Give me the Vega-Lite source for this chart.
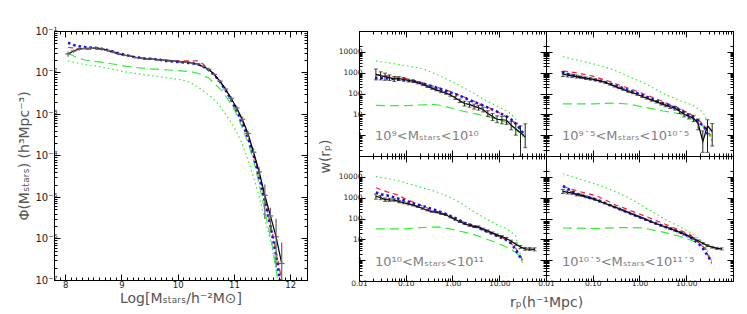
{
"$schema": "https://vega.github.io/schema/vega-lite/v6.json",
"padding": {"left": 17, "top": 25, "right": 0, "bottom": 0},
"spacing": 9,
"config": {
  "font": "DejaVu Sans",
  "view": {"stroke": "#000", "strokeWidth": 1},
  "axis": {"domainColor": "#000", "tickColor": "#000", "labelColor": "#222", "labelFontSize": 7.5, "titleFontSize": 14, "titleFontWeight": "normal", "titleColor": "#555", "grid": false, "labelFlush": false, "labelOverlap": false, "labelPadding": 3, "titlePadding": 3},
  "concat": {"spacing": 0}
},
"datasets": {
"smf": [
{"s":"o","x":8.05,"y":0.028,"lo":0.024,"hi":0.032,"xl":8.0,"xh":8.1},
{"s":"o","x":8.15,"y":0.033,"lo":0.030,"hi":0.036,"xl":8.1,"xh":8.2},
{"s":"o","x":8.25,"y":0.037,"lo":0.034,"hi":0.040,"xl":8.2,"xh":8.3},
{"s":"o","x":8.35,"y":0.038,"lo":0.035,"hi":0.041,"xl":8.3,"xh":8.4},
{"s":"o","x":8.45,"y":0.038,"lo":0.035,"hi":0.041,"xl":8.4,"xh":8.5},
{"s":"o","x":8.55,"y":0.039,"lo":0.036,"hi":0.042,"xl":8.5,"xh":8.6},
{"s":"o","x":8.65,"y":0.037,"lo":0.034,"hi":0.040,"xl":8.6,"xh":8.7},
{"s":"o","x":8.75,"y":0.034,"lo":0.032,"hi":0.036,"xl":8.7,"xh":8.8},
{"s":"o","x":8.85,"y":0.031,"lo":0.029,"hi":0.033,"xl":8.8,"xh":8.9},
{"s":"o","x":8.95,"y":0.028,"lo":0.026,"hi":0.030,"xl":8.9,"xh":9.0},
{"s":"o","x":9.05,"y":0.026,"lo":0.0245,"hi":0.0275,"xl":9.0,"xh":9.1},
{"s":"o","x":9.15,"y":0.025,"lo":0.0235,"hi":0.0265,"xl":9.1,"xh":9.2},
{"s":"o","x":9.25,"y":0.023,"lo":0.0217,"hi":0.0243,"xl":9.2,"xh":9.3},
{"s":"o","x":9.35,"y":0.022,"lo":0.0208,"hi":0.0232,"xl":9.3,"xh":9.4},
{"s":"o","x":9.45,"y":0.021,"lo":0.0199,"hi":0.0221,"xl":9.4,"xh":9.5},
{"s":"o","x":9.55,"y":0.021,"lo":0.0199,"hi":0.0221,"xl":9.5,"xh":9.6},
{"s":"o","x":9.65,"y":0.020,"lo":0.019,"hi":0.021,"xl":9.6,"xh":9.7},
{"s":"o","x":9.75,"y":0.020,"lo":0.019,"hi":0.021,"xl":9.7,"xh":9.8},
{"s":"o","x":9.85,"y":0.019,"lo":0.018,"hi":0.020,"xl":9.8,"xh":9.9},
{"s":"o","x":9.95,"y":0.019,"lo":0.018,"hi":0.020,"xl":9.9,"xh":10.0},
{"s":"o","x":10.05,"y":0.018,"lo":0.017,"hi":0.019,"xl":10.0,"xh":10.1},
{"s":"o","x":10.15,"y":0.018,"lo":0.017,"hi":0.019,"xl":10.1,"xh":10.2},
{"s":"o","x":10.25,"y":0.017,"lo":0.016,"hi":0.018,"xl":10.2,"xh":10.3},
{"s":"o","x":10.35,"y":0.016,"lo":0.015,"hi":0.017,"xl":10.3,"xh":10.4},
{"s":"o","x":10.45,"y":0.014,"lo":0.013,"hi":0.015,"xl":10.4,"xh":10.5},
{"s":"o","x":10.55,"y":0.012,"lo":0.011,"hi":0.013,"xl":10.5,"xh":10.6},
{"s":"o","x":10.65,"y":0.0090,"lo":0.0083,"hi":0.0097,"xl":10.6,"xh":10.7},
{"s":"o","x":10.75,"y":0.0062,"lo":0.0057,"hi":0.0067,"xl":10.7,"xh":10.8},
{"s":"o","x":10.85,"y":0.0040,"lo":0.0036,"hi":0.0044,"xl":10.8,"xh":10.9},
{"s":"o","x":10.95,"y":0.0024,"lo":0.0021,"hi":0.0027,"xl":10.9,"xh":11.0},
{"s":"o","x":11.05,"y":0.0014,"lo":0.0012,"hi":0.0016,"xl":11.0,"xh":11.1},
{"s":"o","x":11.15,"y":0.00075,"lo":0.00064,"hi":0.00086,"xl":11.1,"xh":11.2},
{"s":"o","x":11.25,"y":0.00034,"lo":0.00028,"hi":0.0004,"xl":11.2,"xh":11.3},
{"s":"o","x":11.35,"y":0.00012,"lo":0.0001,"hi":0.00015,"xl":11.3,"xh":11.4},
{"s":"o","x":11.45,"y":0.00004,"lo":0.00003,"hi":0.000052,"xl":11.4,"xh":11.5},
{"s":"o","x":11.55,"y":0.000011,"lo":0.000003,"hi":0.00002,"xl":11.5,"xh":11.6},
{"s":"o","x":11.65,"y":0.0000035,"lo":0.0000015,"hi":0.0000055,"xl":11.6,"xh":11.7},
{"s":"o","x":11.75,"y":0.0000011,"lo":0.0000002,"hi":0.000003,"xl":11.7,"xh":11.8},
{"s":"o","x":11.85,"y":0.00000025,"lo":0.0000001,"hi":0.0000008,"xl":11.8,"xh":11.9},
{"s":"r","x":8.05,"y":0.040},{"s":"r","x":8.15,"y":0.039},{"s":"r","x":8.25,"y":0.037},{"s":"r","x":8.35,"y":0.036},{"s":"r","x":8.5,"y":0.037},{"s":"r","x":8.65,"y":0.036},{"s":"r","x":8.8,"y":0.032},{"s":"r","x":9.0,"y":0.027},{"s":"r","x":9.2,"y":0.024},{"s":"r","x":9.4,"y":0.022},{"s":"r","x":9.6,"y":0.021},{"s":"r","x":9.8,"y":0.020},{"s":"r","x":10.0,"y":0.019},{"s":"r","x":10.2,"y":0.019},{"s":"r","x":10.35,"y":0.019},{"s":"r","x":10.45,"y":0.016},{"s":"r","x":10.55,"y":0.012},{"s":"r","x":10.65,"y":0.0088},{"s":"r","x":10.75,"y":0.006},{"s":"r","x":10.85,"y":0.0039},{"s":"r","x":10.95,"y":0.0023},{"s":"r","x":11.05,"y":0.0013},{"s":"r","x":11.15,"y":0.00068},{"s":"r","x":11.25,"y":0.0003},{"s":"r","x":11.35,"y":0.00011},{"s":"r","x":11.45,"y":0.000035},{"s":"r","x":11.55,"y":0.000009},{"s":"r","x":11.65,"y":0.0000022},{"s":"r","x":11.75,"y":0.0000005},{"s":"r","x":11.85,"y":0.0000001},
{"s":"b","x":8.05,"y":0.052},{"s":"b","x":8.15,"y":0.046},{"s":"b","x":8.25,"y":0.043},{"s":"b","x":8.35,"y":0.041},{"s":"b","x":8.45,"y":0.040},{"s":"b","x":8.55,"y":0.039},{"s":"b","x":8.65,"y":0.037},{"s":"b","x":8.75,"y":0.035},{"s":"b","x":8.85,"y":0.032},{"s":"b","x":8.95,"y":0.029},{"s":"b","x":9.05,"y":0.027},{"s":"b","x":9.2,"y":0.024},{"s":"b","x":9.4,"y":0.022},{"s":"b","x":9.6,"y":0.021},{"s":"b","x":9.8,"y":0.019},{"s":"b","x":10.0,"y":0.018},{"s":"b","x":10.2,"y":0.017},{"s":"b","x":10.35,"y":0.016},{"s":"b","x":10.45,"y":0.014},{"s":"b","x":10.55,"y":0.0115},{"s":"b","x":10.65,"y":0.0088},{"s":"b","x":10.75,"y":0.006},{"s":"b","x":10.85,"y":0.0038},{"s":"b","x":10.95,"y":0.0022},{"s":"b","x":11.05,"y":0.0012},{"s":"b","x":11.15,"y":0.0006},{"s":"b","x":11.25,"y":0.00027},{"s":"b","x":11.35,"y":0.0001},{"s":"b","x":11.45,"y":0.00003},{"s":"b","x":11.55,"y":0.000008},{"s":"b","x":11.65,"y":0.000002},{"s":"b","x":11.75,"y":0.0000004},{"s":"b","x":11.82,"y":0.0000001},
{"s":"gd","x":8.05,"y":0.029},{"s":"gd","x":8.2,"y":0.023},{"s":"gd","x":8.35,"y":0.020},{"s":"gd","x":8.6,"y":0.018},{"s":"gd","x":8.85,"y":0.016},{"s":"gd","x":9.1,"y":0.014},{"s":"gd","x":9.37,"y":0.0127},{"s":"gd","x":9.6,"y":0.012},{"s":"gd","x":9.84,"y":0.0115},{"s":"gd","x":10.05,"y":0.011},{"s":"gd","x":10.25,"y":0.0104},{"s":"gd","x":10.4,"y":0.0092},{"s":"gd","x":10.55,"y":0.0074},{"s":"gd","x":10.65,"y":0.0055},{"s":"gd","x":10.78,"y":0.0037},{"s":"gd","x":10.9,"y":0.0022},{"s":"gd","x":11.02,"y":0.0012},{"s":"gd","x":11.14,"y":0.0005},{"s":"gd","x":11.26,"y":0.00019},{"s":"gd","x":11.37,"y":0.00006},{"s":"gd","x":11.48,"y":0.000013},{"s":"gd","x":11.58,"y":0.000003},{"s":"gd","x":11.68,"y":0.0000007},{"s":"gd","x":11.78,"y":0.0000001},
{"s":"gt","x":8.05,"y":0.019},{"s":"gt","x":8.3,"y":0.016},{"s":"gt","x":8.65,"y":0.0135},{"s":"gt","x":8.95,"y":0.011},{"s":"gt","x":9.24,"y":0.0095},{"s":"gt","x":9.55,"y":0.0083},{"s":"gt","x":9.84,"y":0.0074},{"s":"gt","x":10.05,"y":0.0067},{"s":"gt","x":10.2,"y":0.0059},{"s":"gt","x":10.32,"y":0.0048},{"s":"gt","x":10.43,"y":0.0038},{"s":"gt","x":10.58,"y":0.0027},{"s":"gt","x":10.73,"y":0.0017},{"s":"gt","x":10.85,"y":0.001},{"s":"gt","x":10.96,"y":0.0006},{"s":"gt","x":11.06,"y":0.00035},{"s":"gt","x":11.14,"y":0.0002},{"s":"gt","x":11.25,"y":0.00008},{"s":"gt","x":11.35,"y":0.00003},{"s":"gt","x":11.45,"y":0.00001},{"s":"gt","x":11.55,"y":0.000003},{"s":"gt","x":11.65,"y":0.0000009},{"s":"gt","x":11.75,"y":0.00000022},{"s":"gt","x":11.8,"y":0.0000001}
],
"wp": [
{"p":1,"s":"o","r":0.023,"w":830,"lo":450,"hi":1500},{"p":1,"s":"o","r":0.029,"w":720,"lo":450,"hi":1100},{"p":1,"s":"o","r":0.036,"w":650,"lo":430,"hi":950},{"p":1,"s":"o","r":0.045,"w":580,"lo":420,"hi":780},{"p":1,"s":"o","r":0.057,"w":500,"lo":380,"hi":650},{"p":1,"s":"o","r":0.072,"w":520,"lo":420,"hi":640},{"p":1,"s":"o","r":0.09,"w":480,"lo":400,"hi":580},{"p":1,"s":"o","r":0.114,"w":420,"lo":360,"hi":490},{"p":1,"s":"o","r":0.143,"w":390,"lo":340,"hi":450},{"p":1,"s":"o","r":0.18,"w":330,"lo":290,"hi":375},{"p":1,"s":"o","r":0.23,"w":270,"lo":240,"hi":305},{"p":1,"s":"o","r":0.29,"w":220,"lo":195,"hi":248},{"p":1,"s":"o","r":0.36,"w":180,"lo":160,"hi":202},{"p":1,"s":"o","r":0.45,"w":150,"lo":133,"hi":168},{"p":1,"s":"o","r":0.57,"w":125,"lo":110,"hi":140},{"p":1,"s":"o","r":0.72,"w":105,"lo":92,"hi":119},{"p":1,"s":"o","r":0.9,"w":85,"lo":74,"hi":97},{"p":1,"s":"o","r":1.14,"w":62,"lo":52,"hi":73},{"p":1,"s":"o","r":1.43,"w":45,"lo":37,"hi":54},{"p":1,"s":"o","r":1.8,"w":33,"lo":25,"hi":43},{"p":1,"s":"o","r":2.3,"w":30,"lo":22,"hi":40},{"p":1,"s":"o","r":2.9,"w":24,"lo":18,"hi":31},{"p":1,"s":"o","r":3.6,"w":21,"lo":16,"hi":27},{"p":1,"s":"o","r":4.5,"w":17,"lo":13,"hi":22},{"p":1,"s":"o","r":5.7,"w":11,"lo":8,"hi":15},{"p":1,"s":"o","r":7.2,"w":7.8,"lo":5,"hi":11},{"p":1,"s":"o","r":9,"w":5.8,"lo":4,"hi":8.5},{"p":1,"s":"o","r":11.4,"w":5.5,"lo":3.5,"hi":8},{"p":1,"s":"o","r":14.3,"w":5.2,"lo":3.3,"hi":7.8},{"p":1,"s":"o","r":18,"w":3.0,"lo":1.8,"hi":4.6},{"p":1,"s":"o","r":22.6,"w":2.0,"lo":1.0,"hi":3.5},{"p":1,"s":"o","r":28.5,"w":1.3,"lo":0.1,"hi":2.8},{"p":1,"s":"o","r":35.9,"w":0.8,"lo":0.25,"hi":3.5},
{"p":1,"s":"r","r":0.023,"w":800},{"p":1,"s":"r","r":0.04,"w":700},{"p":1,"s":"r","r":0.07,"w":600},{"p":1,"s":"r","r":0.1,"w":520},{"p":1,"s":"r","r":0.2,"w":360},{"p":1,"s":"r","r":0.4,"w":220},{"p":1,"s":"r","r":0.7,"w":150},{"p":1,"s":"r","r":1,"w":115},{"p":1,"s":"r","r":2,"w":60},{"p":1,"s":"r","r":4,"w":30},{"p":1,"s":"r","r":7,"w":18},{"p":1,"s":"r","r":10,"w":12},{"p":1,"s":"r","r":15,"w":7},{"p":1,"s":"r","r":20,"w":4.5},{"p":1,"s":"r","r":25,"w":2.6},{"p":1,"s":"r","r":30,"w":1.5},{"p":1,"s":"r","r":33,"w":1.0},
{"p":1,"s":"b","r":0.022,"w":560},{"p":1,"s":"b","r":0.03,"w":560},{"p":1,"s":"b","r":0.04,"w":530},{"p":1,"s":"b","r":0.06,"w":480},{"p":1,"s":"b","r":0.1,"w":420},{"p":1,"s":"b","r":0.15,"w":380},{"p":1,"s":"b","r":0.25,"w":290},{"p":1,"s":"b","r":0.4,"w":210},{"p":1,"s":"b","r":0.7,"w":140},{"p":1,"s":"b","r":1,"w":105},{"p":1,"s":"b","r":1.5,"w":75},{"p":1,"s":"b","r":2.5,"w":45},{"p":1,"s":"b","r":4,"w":30},{"p":1,"s":"b","r":6,"w":20},{"p":1,"s":"b","r":10,"w":12},{"p":1,"s":"b","r":15,"w":7.5},{"p":1,"s":"b","r":20,"w":4.8},{"p":1,"s":"b","r":25,"w":2.8},{"p":1,"s":"b","r":30,"w":1.6},{"p":1,"s":"b","r":35,"w":1.0},
{"p":1,"s":"gt","r":0.023,"w":3700},{"p":1,"s":"gt","r":0.05,"w":2800},{"p":1,"s":"gt","r":0.1,"w":2200},{"p":1,"s":"gt","r":0.23,"w":1550},{"p":1,"s":"gt","r":0.5,"w":750},{"p":1,"s":"gt","r":1.25,"w":280},{"p":1,"s":"gt","r":2.5,"w":120},{"p":1,"s":"gt","r":5.4,"w":43},{"p":1,"s":"gt","r":10,"w":22},{"p":1,"s":"gt","r":16,"w":12.6},{"p":1,"s":"gt","r":22,"w":6.5},{"p":1,"s":"gt","r":27,"w":2.6},{"p":1,"s":"gt","r":32,"w":1.2},
{"p":1,"s":"gd","r":0.023,"w":27},{"p":1,"s":"gd","r":0.05,"w":26},{"p":1,"s":"gd","r":0.1,"w":26},{"p":1,"s":"gd","r":0.2,"w":28},{"p":1,"s":"gd","r":0.35,"w":30},{"p":1,"s":"gd","r":0.5,"w":28},{"p":1,"s":"gd","r":0.8,"w":22},{"p":1,"s":"gd","r":1.2,"w":17},{"p":1,"s":"gd","r":2,"w":13},{"p":1,"s":"gd","r":3.5,"w":10},{"p":1,"s":"gd","r":6,"w":7.5},{"p":1,"s":"gd","r":10,"w":5.5},{"p":1,"s":"gd","r":15,"w":3.8},{"p":1,"s":"gd","r":20,"w":2.4},{"p":1,"s":"gd","r":25,"w":1.5},{"p":1,"s":"gd","r":32,"w":0.8},
{"p":2,"s":"o","r":0.023,"w":850,"lo":650,"hi":1100},{"p":2,"s":"o","r":0.029,"w":760,"lo":620,"hi":930},{"p":2,"s":"o","r":0.036,"w":700,"lo":580,"hi":840},{"p":2,"s":"o","r":0.045,"w":650,"lo":550,"hi":770},{"p":2,"s":"o","r":0.057,"w":600,"lo":520,"hi":690},{"p":2,"s":"o","r":0.072,"w":540,"lo":470,"hi":620},{"p":2,"s":"o","r":0.09,"w":500,"lo":440,"hi":570},{"p":2,"s":"o","r":0.114,"w":450,"lo":400,"hi":505},{"p":2,"s":"o","r":0.143,"w":400,"lo":360,"hi":445},{"p":2,"s":"o","r":0.18,"w":350,"lo":318,"hi":385},{"p":2,"s":"o","r":0.23,"w":280,"lo":255,"hi":308},{"p":2,"s":"o","r":0.29,"w":225,"lo":205,"hi":247},{"p":2,"s":"o","r":0.36,"w":185,"lo":170,"hi":202},{"p":2,"s":"o","r":0.45,"w":155,"lo":142,"hi":169},{"p":2,"s":"o","r":0.57,"w":125,"lo":115,"hi":136},{"p":2,"s":"o","r":0.72,"w":108,"lo":99,"hi":118},{"p":2,"s":"o","r":0.9,"w":90,"lo":82,"hi":99},{"p":2,"s":"o","r":1.14,"w":72,"lo":65,"hi":80},{"p":2,"s":"o","r":1.43,"w":60,"lo":54,"hi":67},{"p":2,"s":"o","r":1.8,"w":48,"lo":43,"hi":54},{"p":2,"s":"o","r":2.3,"w":40,"lo":35,"hi":46},{"p":2,"s":"o","r":2.9,"w":32,"lo":28,"hi":37},{"p":2,"s":"o","r":3.6,"w":27,"lo":23,"hi":31},{"p":2,"s":"o","r":4.5,"w":23,"lo":19,"hi":27},{"p":2,"s":"o","r":5.7,"w":20,"lo":16,"hi":24},{"p":2,"s":"o","r":7.2,"w":14,"lo":11,"hi":17.5},{"p":2,"s":"o","r":9,"w":10,"lo":7.5,"hi":13},{"p":2,"s":"o","r":11.4,"w":8,"lo":6,"hi":10.5},{"p":2,"s":"o","r":14.3,"w":6.6,"lo":4.5,"hi":9},{"p":2,"s":"o","r":18,"w":3.6,"lo":1.8,"hi":6},{"p":2,"s":"o","r":22.6,"w":0.5,"lo":0.15,"hi":1.6},{"p":2,"s":"o","r":28.5,"w":2.8,"lo":0.15,"hi":5.5},{"p":2,"s":"o","r":35.9,"w":1.5,"lo":0.3,"hi":3.6},
{"p":2,"s":"r","r":0.023,"w":1200},{"p":2,"s":"r","r":0.05,"w":950},{"p":2,"s":"r","r":0.1,"w":680},{"p":2,"s":"r","r":0.2,"w":420},{"p":2,"s":"r","r":0.45,"w":220},{"p":2,"s":"r","r":1,"w":115},{"p":2,"s":"r","r":2.3,"w":55},{"p":2,"s":"r","r":4,"w":33},{"p":2,"s":"r","r":7,"w":20},{"p":2,"s":"r","r":10,"w":13},{"p":2,"s":"r","r":15,"w":7.5},{"p":2,"s":"r","r":20,"w":4.5},{"p":2,"s":"r","r":25,"w":2.5},{"p":2,"s":"r","r":33,"w":1.0},
{"p":2,"s":"b","r":0.022,"w":1050},{"p":2,"s":"b","r":0.03,"w":850},{"p":2,"s":"b","r":0.05,"w":640},{"p":2,"s":"b","r":0.08,"w":520},{"p":2,"s":"b","r":0.12,"w":440},{"p":2,"s":"b","r":0.2,"w":330},{"p":2,"s":"b","r":0.35,"w":220},{"p":2,"s":"b","r":0.6,"w":140},{"p":2,"s":"b","r":1,"w":95},{"p":2,"s":"b","r":2,"w":50},{"p":2,"s":"b","r":4,"w":28},{"p":2,"s":"b","r":7,"w":17},{"p":2,"s":"b","r":10,"w":11},{"p":2,"s":"b","r":15,"w":6.5},{"p":2,"s":"b","r":20,"w":3.8},{"p":2,"s":"b","r":25,"w":2.2},{"p":2,"s":"b","r":30,"w":0.9},
{"p":2,"s":"gt","r":0.023,"w":5800},{"p":2,"s":"gt","r":0.05,"w":3900},{"p":2,"s":"gt","r":0.12,"w":2450},{"p":2,"s":"gt","r":0.3,"w":1300},{"p":2,"s":"gt","r":0.63,"w":610},{"p":2,"s":"gt","r":1.42,"w":280},{"p":2,"s":"gt","r":3.2,"w":100},{"p":2,"s":"gt","r":7.4,"w":45},{"p":2,"s":"gt","r":14,"w":27},{"p":2,"s":"gt","r":23,"w":12.6},{"p":2,"s":"gt","r":29,"w":3.6},{"p":2,"s":"gt","r":35,"w":0.55},
{"p":2,"s":"gd","r":0.023,"w":32},{"p":2,"s":"gd","r":0.1,"w":32},{"p":2,"s":"gd","r":0.3,"w":35},{"p":2,"s":"gd","r":0.6,"w":31},{"p":2,"s":"gd","r":1.4,"w":21},{"p":2,"s":"gd","r":3.2,"w":14.5},{"p":2,"s":"gd","r":7.4,"w":10.7},{"p":2,"s":"gd","r":14,"w":5.7},{"p":2,"s":"gd","r":23,"w":2.6},{"p":2,"s":"gd","r":33,"w":0.8},
{"p":3,"s":"o","r":0.023,"w":1170,"lo":850,"hi":1500},{"p":3,"s":"o","r":0.029,"w":1000,"lo":800,"hi":1250},{"p":3,"s":"o","r":0.036,"w":800,"lo":660,"hi":970},{"p":3,"s":"o","r":0.045,"w":780,"lo":660,"hi":920},{"p":3,"s":"o","r":0.057,"w":770,"lo":670,"hi":880},{"p":3,"s":"o","r":0.072,"w":650,"lo":570,"hi":740},{"p":3,"s":"o","r":0.09,"w":570,"lo":510,"hi":640},{"p":3,"s":"o","r":0.114,"w":500,"lo":450,"hi":555},{"p":3,"s":"o","r":0.143,"w":440,"lo":400,"hi":485},{"p":3,"s":"o","r":0.18,"w":370,"lo":340,"hi":402},{"p":3,"s":"o","r":0.23,"w":300,"lo":277,"hi":325},{"p":3,"s":"o","r":0.29,"w":250,"lo":232,"hi":270},{"p":3,"s":"o","r":0.36,"w":215,"lo":200,"hi":231},{"p":3,"s":"o","r":0.45,"w":200,"lo":186,"hi":215},{"p":3,"s":"o","r":0.57,"w":170,"lo":158,"hi":183},{"p":3,"s":"o","r":0.72,"w":150,"lo":139,"hi":162},{"p":3,"s":"o","r":0.9,"w":115,"lo":107,"hi":124},{"p":3,"s":"o","r":1.14,"w":90,"lo":83,"hi":97},{"p":3,"s":"o","r":1.43,"w":70,"lo":64,"hi":76},{"p":3,"s":"o","r":1.8,"w":56,"lo":51,"hi":61},{"p":3,"s":"o","r":2.3,"w":46,"lo":42,"hi":51},{"p":3,"s":"o","r":2.9,"w":41,"lo":37,"hi":45},{"p":3,"s":"o","r":3.6,"w":40,"lo":36,"hi":44},{"p":3,"s":"o","r":4.5,"w":31,"lo":28,"hi":34},{"p":3,"s":"o","r":5.7,"w":25,"lo":22,"hi":28},{"p":3,"s":"o","r":7.2,"w":20,"lo":18,"hi":22.5},{"p":3,"s":"o","r":9,"w":16,"lo":14,"hi":18},{"p":3,"s":"o","r":11.4,"w":13.5,"lo":12,"hi":15},{"p":3,"s":"o","r":14.3,"w":11,"lo":9.8,"hi":12.3},{"p":3,"s":"o","r":18,"w":8,"lo":7,"hi":9.1},{"p":3,"s":"o","r":22.6,"w":5.8,"lo":5,"hi":6.7},{"p":3,"s":"o","r":28.5,"w":4.3,"lo":3.7,"hi":5},{"p":3,"s":"o","r":35.9,"w":3.5,"lo":3,"hi":4.1},{"p":3,"s":"o","r":45,"w":3.4,"lo":2.9,"hi":4},{"p":3,"s":"o","r":57,"w":3.3,"lo":2.8,"hi":3.9},
{"p":3,"s":"r","r":0.023,"w":3000},{"p":3,"s":"r","r":0.04,"w":1900},{"p":3,"s":"r","r":0.062,"w":1450},{"p":3,"s":"r","r":0.1,"w":850},{"p":3,"s":"r","r":0.18,"w":490},{"p":3,"s":"r","r":0.33,"w":280},{"p":3,"s":"r","r":0.6,"w":180},{"p":3,"s":"r","r":1.17,"w":95},{"p":3,"s":"r","r":2,"w":60},{"p":3,"s":"r","r":3.5,"w":38},{"p":3,"s":"r","r":6,"w":24},{"p":3,"s":"r","r":10,"w":15},{"p":3,"s":"r","r":16,"w":8},{"p":3,"s":"r","r":22,"w":4},{"p":3,"s":"r","r":27,"w":2},{"p":3,"s":"r","r":32,"w":0.9},
{"p":3,"s":"b","r":0.023,"w":1800},{"p":3,"s":"b","r":0.03,"w":1450},{"p":3,"s":"b","r":0.039,"w":1300},{"p":3,"s":"b","r":0.062,"w":970},{"p":3,"s":"b","r":0.1,"w":710},{"p":3,"s":"b","r":0.165,"w":490},{"p":3,"s":"b","r":0.27,"w":360},{"p":3,"s":"b","r":0.44,"w":250},{"p":3,"s":"b","r":0.72,"w":165},{"p":3,"s":"b","r":1.17,"w":103},{"p":3,"s":"b","r":1.9,"w":59},{"p":3,"s":"b","r":3.1,"w":41},{"p":3,"s":"b","r":5.1,"w":25},{"p":3,"s":"b","r":8.2,"w":16},{"p":3,"s":"b","r":13.4,"w":10},{"p":3,"s":"b","r":18,"w":6.3},{"p":3,"s":"b","r":22,"w":3.4},{"p":3,"s":"b","r":26,"w":1.8},{"p":3,"s":"b","r":31,"w":1.0},
{"p":3,"s":"gt","r":0.023,"w":10300},{"p":3,"s":"gt","r":0.062,"w":6900},{"p":3,"s":"gt","r":0.165,"w":3700},{"p":3,"s":"gt","r":0.44,"w":1980},{"p":3,"s":"gt","r":1.17,"w":780},{"p":3,"s":"gt","r":3.1,"w":190},{"p":3,"s":"gt","r":8.2,"w":55},{"p":3,"s":"gt","r":13.4,"w":35},{"p":3,"s":"gt","r":22,"w":16},{"p":3,"s":"gt","r":26,"w":4.6},{"p":3,"s":"gt","r":31,"w":0.7},
{"p":3,"s":"gd","r":0.023,"w":32},{"p":3,"s":"gd","r":0.1,"w":32},{"p":3,"s":"gd","r":0.27,"w":38},{"p":3,"s":"gd","r":0.5,"w":40},{"p":3,"s":"gd","r":1.17,"w":28},{"p":3,"s":"gd","r":3.1,"w":16},{"p":3,"s":"gd","r":8.2,"w":7.3},{"p":3,"s":"gd","r":18,"w":3.4},{"p":3,"s":"gd","r":26,"w":1.8},{"p":3,"s":"gd","r":31,"w":0.9},
{"p":4,"s":"o","r":0.023,"w":2000,"lo":1600,"hi":2500},{"p":4,"s":"o","r":0.029,"w":1800,"lo":1500,"hi":2150},{"p":4,"s":"o","r":0.036,"w":1700,"lo":1450,"hi":2000},{"p":4,"s":"o","r":0.045,"w":1400,"lo":1220,"hi":1600},{"p":4,"s":"o","r":0.057,"w":1300,"lo":1150,"hi":1470},{"p":4,"s":"o","r":0.072,"w":1100,"lo":990,"hi":1220},{"p":4,"s":"o","r":0.09,"w":950,"lo":870,"hi":1040},{"p":4,"s":"o","r":0.114,"w":800,"lo":740,"hi":865},{"p":4,"s":"o","r":0.143,"w":650,"lo":605,"hi":700},{"p":4,"s":"o","r":0.18,"w":540,"lo":505,"hi":578},{"p":4,"s":"o","r":0.23,"w":440,"lo":413,"hi":470},{"p":4,"s":"o","r":0.29,"w":360,"lo":340,"hi":382},{"p":4,"s":"o","r":0.36,"w":300,"lo":284,"hi":317},{"p":4,"s":"o","r":0.45,"w":245,"lo":233,"hi":258},{"p":4,"s":"o","r":0.57,"w":200,"lo":190,"hi":210},{"p":4,"s":"o","r":0.72,"w":160,"lo":152,"hi":168},{"p":4,"s":"o","r":0.9,"w":130,"lo":123,"hi":137},{"p":4,"s":"o","r":1.14,"w":105,"lo":99,"hi":111},{"p":4,"s":"o","r":1.43,"w":85,"lo":80,"hi":90},{"p":4,"s":"o","r":1.8,"w":68,"lo":64,"hi":72},{"p":4,"s":"o","r":2.3,"w":56,"lo":52,"hi":60},{"p":4,"s":"o","r":2.9,"w":46,"lo":43,"hi":49},{"p":4,"s":"o","r":3.6,"w":39,"lo":36,"hi":42},{"p":4,"s":"o","r":4.5,"w":33,"lo":30,"hi":36},{"p":4,"s":"o","r":5.7,"w":27,"lo":25,"hi":29},{"p":4,"s":"o","r":7.2,"w":22,"lo":20,"hi":24},{"p":4,"s":"o","r":9,"w":17.5,"lo":16,"hi":19},{"p":4,"s":"o","r":11.4,"w":14,"lo":12.8,"hi":15.2},{"p":4,"s":"o","r":14.3,"w":11,"lo":10,"hi":12},{"p":4,"s":"o","r":18,"w":8.5,"lo":7.7,"hi":9.3},{"p":4,"s":"o","r":22.6,"w":6.5,"lo":5.9,"hi":7.1},{"p":4,"s":"o","r":28.5,"w":5,"lo":4.5,"hi":5.5},{"p":4,"s":"o","r":35.9,"w":4.2,"lo":3.8,"hi":4.6},{"p":4,"s":"o","r":45,"w":3.7,"lo":3.3,"hi":4.1},{"p":4,"s":"o","r":57,"w":3.5,"lo":3.1,"hi":3.9},
{"p":4,"s":"r","r":0.023,"w":3400},{"p":4,"s":"r","r":0.05,"w":2000},{"p":4,"s":"r","r":0.12,"w":1240},{"p":4,"s":"r","r":0.31,"w":445},{"p":4,"s":"r","r":1.2,"w":141},{"p":4,"s":"r","r":3.8,"w":50},{"p":4,"s":"r","r":12,"w":17},{"p":4,"s":"r","r":25,"w":3.7},{"p":4,"s":"r","r":35,"w":0.7},
{"p":4,"s":"b","r":0.023,"w":3700},{"p":4,"s":"b","r":0.03,"w":2600},{"p":4,"s":"b","r":0.038,"w":1900},{"p":4,"s":"b","r":0.05,"w":1450},{"p":4,"s":"b","r":0.07,"w":1150},{"p":4,"s":"b","r":0.12,"w":820},{"p":4,"s":"b","r":0.31,"w":330},{"p":4,"s":"b","r":1.2,"w":98},{"p":4,"s":"b","r":3.8,"w":38},{"p":4,"s":"b","r":8,"w":20},{"p":4,"s":"b","r":12,"w":13},{"p":4,"s":"b","r":18,"w":6.5},{"p":4,"s":"b","r":22,"w":4},{"p":4,"s":"b","r":27,"w":2.0},{"p":4,"s":"b","r":32,"w":1.1},
{"p":4,"s":"gt","r":0.023,"w":14000},{"p":4,"s":"gt","r":0.05,"w":8000},{"p":4,"s":"gt","r":0.12,"w":4400},{"p":4,"s":"gt","r":0.3,"w":2000},{"p":4,"s":"gt","r":0.63,"w":910},{"p":4,"s":"gt","r":1.2,"w":380},{"p":4,"s":"gt","r":3.2,"w":103},{"p":4,"s":"gt","r":12,"w":22},{"p":4,"s":"gt","r":23,"w":7.3},{"p":4,"s":"gt","r":28,"w":3},{"p":4,"s":"gt","r":32,"w":1.0},
{"p":4,"s":"gd","r":0.023,"w":35},{"p":4,"s":"gd","r":0.12,"w":33},{"p":4,"s":"gd","r":0.3,"w":36},{"p":4,"s":"gd","r":0.63,"w":37},{"p":4,"s":"gd","r":1.2,"w":35},{"p":4,"s":"gd","r":3.2,"w":22},{"p":4,"s":"gd","r":7.3,"w":14},{"p":4,"s":"gd","r":16.7,"w":7.3},{"p":4,"s":"gd","r":27,"w":3.4},{"p":4,"s":"gd","r":35,"w":0.9}
]
},
"hconcat": [
{
 "width": 253, "height": 249,
 "data": {"name": "smf"},
 "resolve": {"axis": {"x": "independent", "y": "independent"}},
 "layer": [
  {"layer": [
  {"transform": [{"filter": "datum.s=='gt'"}], "mark": {"type": "line", "color": "#33ee33", "strokeDash": [1.5, 3], "strokeWidth": 1.2, "clip": true},
   "encoding": {
    "x": {"field": "x", "type": "quantitative", "scale": {"domain": [7.8, 12.3], "nice": false, "zero": false},
      "axis": {"title": "Log[Mₛₜₐᵣₛ/h⁻²M⊙]", "labelFontSize": 8.5, "labelPadding": 6, "labelOverlap": false, "values": [8, 9, 10, 11, 12], "format": "d", "tickSize": -6}},
    "y": {"field": "y", "type": "quantitative", "scale": {"type": "log", "domain": [1e-7, 0.1]},
      "axis": {"title": "Φ(Mₛₜₐᵣₛ)  (h³Mpc⁻³)", "labelFontSize": 10, "labelOverlap": false, "values": [1e-7,2e-7,3e-7,4e-7,5e-7,6e-7,7e-7,8e-7,9e-7,1e-6,2e-6,3e-6,4e-6,5e-6,6e-6,7e-6,8e-6,9e-6,1e-5,2e-5,3e-5,4e-5,5e-5,6e-5,7e-5,8e-5,9e-5,1e-4,2e-4,3e-4,4e-4,5e-4,6e-4,7e-4,8e-4,9e-4,0.001,0.002,0.003,0.004,0.005,0.006,0.007,0.008,0.009,0.01,0.02,0.03,0.04,0.05,0.06,0.07,0.08,0.09,0.1],
       "labelExpr": "abs(log(datum.value)/LN10-round(log(datum.value)/LN10))<0.001 ? '10⁻' + ['⁰','¹','²','³','⁴','⁵','⁶','⁷'][-round(log(datum.value)/LN10)] : ''",
       "tickSize": {"condition": {"test": "abs(log(datum.value)/LN10-round(log(datum.value)/LN10))<0.001", "value": -6}, "value": -3}}}
   }},
  {"transform": [{"filter": "datum.s=='gd'"}], "mark": {"type": "line", "color": "#33ee33", "strokeDash": [9, 5], "strokeWidth": 1.2, "clip": true},
   "encoding": {"x": {"field": "x", "type": "quantitative"}, "y": {"field": "y", "type": "quantitative"}}},
  {"transform": [{"filter": "datum.s=='r'"}], "mark": {"type": "line", "color": "#ff2020", "strokeDash": [5, 4], "strokeWidth": 1.2, "clip": true},
   "encoding": {"x": {"field": "x", "type": "quantitative"}, "y": {"field": "y", "type": "quantitative"}}},
  {"transform": [{"filter": "datum.s=='b'"}], "mark": {"type": "line", "color": "#1010ff", "strokeDash": [2.5, 3], "strokeWidth": 2.5, "clip": true},
   "encoding": {"x": {"field": "x", "type": "quantitative"}, "y": {"field": "y", "type": "quantitative"}}},
  {"transform": [{"filter": "datum.s=='o'"}], "mark": {"type": "line", "color": "#000", "strokeWidth": 1.2, "clip": true},
   "encoding": {"x": {"field": "x", "type": "quantitative"}, "y": {"field": "y", "type": "quantitative"}}},
  {"transform": [{"filter": "datum.s=='o'"}], "mark": {"type": "rule", "color": "#666", "strokeWidth": 1.2, "clip": true},
   "encoding": {"x": {"field": "x", "type": "quantitative"}, "y": {"field": "lo", "type": "quantitative"}, "y2": {"field": "hi"}}},
  {"transform": [{"filter": "datum.s=='o'"}], "mark": {"type": "rule", "color": "#666", "strokeWidth": 1.2, "clip": true},
   "encoding": {"x": {"field": "xl", "type": "quantitative"}, "x2": {"field": "xh"}, "y": {"field": "y", "type": "quantitative"}}}
  ]},
  {"transform": [{"filter": "datum.s=='o'"}], "mark": {"type": "line", "opacity": 0},
   "encoding": {
    "x": {"field": "x", "type": "quantitative", "axis": {"orient": "bottom", "labels": false, "domain": false, "title": null, "values": [7.9,8.1,8.2,8.3,8.4,8.5,8.6,8.7,8.8,8.9,9.1,9.2,9.3,9.4,9.5,9.6,9.7,9.8,9.9,10.1,10.2,10.3,10.4,10.5,10.6,10.7,10.8,10.9,11.1,11.2,11.3,11.4,11.5,11.6,11.7,11.8,11.9,12.1,12.2], "tickSize": -3}},
    "y": {"field": "y", "type": "quantitative", "axis": {"orient": "right", "labels": false, "title": null, "values": [1e-7,2e-7,3e-7,4e-7,5e-7,6e-7,7e-7,8e-7,9e-7,1e-6,2e-6,3e-6,4e-6,5e-6,6e-6,7e-6,8e-6,9e-6,1e-5,2e-5,3e-5,4e-5,5e-5,6e-5,7e-5,8e-5,9e-5,1e-4,2e-4,3e-4,4e-4,5e-4,6e-4,7e-4,8e-4,9e-4,0.001,0.002,0.003,0.004,0.005,0.006,0.007,0.008,0.009,0.01,0.02,0.03,0.04,0.05,0.06,0.07,0.08,0.09,0.1],
       "tickSize": {"condition": {"test": "abs(log(datum.value)/LN10-round(log(datum.value)/LN10))<0.001", "value": -6}, "value": -3}}}
   }},
  {"transform": [{"filter": "datum.s=='o'"}], "mark": {"type": "line", "opacity": 0},
   "encoding": {
    "x": {"field": "x", "type": "quantitative", "axis": {"orient": "top", "labels": false, "title": null, "values": [7.8,7.9,8.0,8.1,8.2,8.3,8.4,8.5,8.6,8.7,8.8,8.9,9.0,9.1,9.2,9.3,9.4,9.5,9.6,9.7,9.8,9.9,10.0,10.1,10.2,10.3,10.4,10.5,10.6,10.7,10.8,10.9,11.0,11.1,11.2,11.3,11.4,11.5,11.6,11.7,11.8,11.9,12.0,12.1,12.2,12.3],
       "tickSize": {"condition": {"test": "abs(datum.value-round(datum.value))<0.001", "value": -6}, "value": -3}}},
    "y": {"field": "y", "type": "quantitative", "axis": null}
   }}
 ]
},
{
 "columns": 2, "spacing": 0, "bounds": "flush",
 "concat": [
   {"width": 187, "height": 125, "data": {"name": "wp"}, "transform": [{"filter": "datum.p==1"}],
    "resolve": {"axis": {"x": "independent", "y": "independent"}},
    "layer": [
     {"layer": [
     {"transform": [{"filter": "datum.s=='gt'"}], "mark": {"type": "line", "color": "#33ee33", "strokeDash": [1.5, 3], "strokeWidth": 1.2, "clip": true},
      "encoding": {
       "x": {"field": "r", "type": "quantitative", "scale": {"type": "log", "domain": [0.01, 100]},
        "axis": {"title": null, "labels": false, "values": [0.01,0.02,0.03,0.04,0.05,0.06,0.07,0.08,0.09,0.1,0.2,0.3,0.4,0.5,0.6,0.7,0.8,0.9,1,2,3,4,5,6,7,8,9,10,20,30,40,50,60,70,80,90,100],
         "tickSize": {"condition": {"test": "abs(log(datum.value)/LN10-round(log(datum.value)/LN10))<0.001", "value": -6}, "value": -3}}},
       "y": {"field": "w", "type": "quantitative", "scale": {"type": "log", "domain": [0.15, 22000]},
        "axis": {"title": null, "labelOverlap": false, "values": [0.2,0.3,0.4,0.5,0.6,0.7,0.8,0.9,1,2,3,4,5,6,7,8,9,10,20,30,40,50,60,70,80,90,100,200,300,400,500,600,700,800,900,1000,2000,3000,4000,5000,6000,7000,8000,9000,10000,20000],
         "labelExpr": "abs(log(datum.value)/LN10-round(log(datum.value)/LN10))<0.001 ? format(datum.value,'d') : ''",
         "tickSize": {"condition": {"test": "abs(log(datum.value)/LN10-round(log(datum.value)/LN10))<0.001", "value": -6}, "value": -3}}}
      }},
     {"transform": [{"filter": "datum.s=='gd'"}], "mark": {"type": "line", "color": "#33ee33", "strokeDash": [9, 5], "strokeWidth": 1.2, "clip": true}, "encoding": {"x": {"field": "r", "type": "quantitative"}, "y": {"field": "w", "type": "quantitative"}}},
     {"transform": [{"filter": "datum.s=='r'"}], "mark": {"type": "line", "color": "#ff2020", "strokeDash": [5, 4], "strokeWidth": 1.2, "clip": true}, "encoding": {"x": {"field": "r", "type": "quantitative"}, "y": {"field": "w", "type": "quantitative"}}},
     {"transform": [{"filter": "datum.s=='b'"}], "mark": {"type": "line", "color": "#1010ff", "strokeDash": [2.5, 3], "strokeWidth": 2.5, "clip": true}, "encoding": {"x": {"field": "r", "type": "quantitative"}, "y": {"field": "w", "type": "quantitative"}}},
     {"transform": [{"filter": "datum.s=='o'"}], "mark": {"type": "line", "color": "#000", "strokeWidth": 1.2, "clip": true}, "encoding": {"x": {"field": "r", "type": "quantitative"}, "y": {"field": "w", "type": "quantitative"}}},
     {"transform": [{"filter": "datum.s=='o'"}], "mark": {"type": "rule", "color": "#222", "strokeWidth": 1, "clip": true}, "encoding": {"x": {"field": "r", "type": "quantitative"}, "y": {"field": "lo", "type": "quantitative"}, "y2": {"field": "hi"}}},
     {"transform": [{"filter": "datum.s=='o'"}], "mark": {"type": "tick", "orient": "horizontal", "size": 4, "thickness": 1, "color": "#222", "clip": true}, "encoding": {"x": {"field": "r", "type": "quantitative"}, "y": {"field": "lo", "type": "quantitative"}}},
     {"transform": [{"filter": "datum.s=='o'"}], "mark": {"type": "tick", "orient": "horizontal", "size": 4, "thickness": 1, "color": "#222", "clip": true}, "encoding": {"x": {"field": "r", "type": "quantitative"}, "y": {"field": "hi", "type": "quantitative"}}},
     {"data": {"values": [{"t": "10⁹<Mₛₜₐᵣₛ<10¹⁰"}]}, "mark": {"type": "text", "align": "left", "baseline": "middle", "fontSize": 13, "color": "#808080"}, "encoding": {"x": {"datum": 0.022}, "y": {"datum": 0.95}, "text": {"field": "t"}}}
     ]},
     {"transform": [{"filter": "datum.s=='o'"}], "mark": {"type": "line", "opacity": 0},
      "encoding": {
       "x": {"field": "r", "type": "quantitative", "axis": {"orient": "top", "labels": false, "title": null, "values": [0.01,0.02,0.03,0.04,0.05,0.06,0.07,0.08,0.09,0.1,0.2,0.3,0.4,0.5,0.6,0.7,0.8,0.9,1,2,3,4,5,6,7,8,9,10,20,30,40,50,60,70,80,90,100],
         "tickSize": {"condition": {"test": "abs(log(datum.value)/LN10-round(log(datum.value)/LN10))<0.001", "value": -6}, "value": -3}}},
       "y": {"field": "w", "type": "quantitative", "axis": {"orient": "right", "labels": false, "title": null, "values": [0.2,0.3,0.4,0.5,0.6,0.7,0.8,0.9,1,2,3,4,5,6,7,8,9,10,20,30,40,50,60,70,80,90,100,200,300,400,500,600,700,800,900,1000,2000,3000,4000,5000,6000,7000,8000,9000,10000,20000],
         "tickSize": {"condition": {"test": "abs(log(datum.value)/LN10-round(log(datum.value)/LN10))<0.001", "value": -6}, "value": -3}}}
      }}
    ]},
   {"width": 187, "height": 125, "data": {"name": "wp"}, "transform": [{"filter": "datum.p==2"}],
    "resolve": {"axis": {"x": "independent", "y": "independent"}},
    "layer": [
     {"layer": [
     {"transform": [{"filter": "datum.s=='gt'"}], "mark": {"type": "line", "color": "#33ee33", "strokeDash": [1.5, 3], "strokeWidth": 1.2, "clip": true},
      "encoding": {
       "x": {"field": "r", "type": "quantitative", "scale": {"type": "log", "domain": [0.01, 100]},
        "axis": {"title": null, "labels": false, "values": [0.01,0.02,0.03,0.04,0.05,0.06,0.07,0.08,0.09,0.1,0.2,0.3,0.4,0.5,0.6,0.7,0.8,0.9,1,2,3,4,5,6,7,8,9,10,20,30,40,50,60,70,80,90,100],
         "tickSize": {"condition": {"test": "abs(log(datum.value)/LN10-round(log(datum.value)/LN10))<0.001", "value": -6}, "value": -3}}},
       "y": {"field": "w", "type": "quantitative", "scale": {"type": "log", "domain": [0.15, 22000]},
        "axis": {"title": null, "labels": false, "values": [0.2,0.3,0.4,0.5,0.6,0.7,0.8,0.9,1,2,3,4,5,6,7,8,9,10,20,30,40,50,60,70,80,90,100,200,300,400,500,600,700,800,900,1000,2000,3000,4000,5000,6000,7000,8000,9000,10000,20000],
         "tickSize": {"condition": {"test": "abs(log(datum.value)/LN10-round(log(datum.value)/LN10))<0.001", "value": -6}, "value": -3}}}
      }},
     {"transform": [{"filter": "datum.s=='gd'"}], "mark": {"type": "line", "color": "#33ee33", "strokeDash": [9, 5], "strokeWidth": 1.2, "clip": true}, "encoding": {"x": {"field": "r", "type": "quantitative"}, "y": {"field": "w", "type": "quantitative"}}},
     {"transform": [{"filter": "datum.s=='r'"}], "mark": {"type": "line", "color": "#ff2020", "strokeDash": [5, 4], "strokeWidth": 1.2, "clip": true}, "encoding": {"x": {"field": "r", "type": "quantitative"}, "y": {"field": "w", "type": "quantitative"}}},
     {"transform": [{"filter": "datum.s=='b'"}], "mark": {"type": "line", "color": "#1010ff", "strokeDash": [2.5, 3], "strokeWidth": 2.5, "clip": true}, "encoding": {"x": {"field": "r", "type": "quantitative"}, "y": {"field": "w", "type": "quantitative"}}},
     {"transform": [{"filter": "datum.s=='o'"}], "mark": {"type": "line", "color": "#000", "strokeWidth": 1.2, "clip": true}, "encoding": {"x": {"field": "r", "type": "quantitative"}, "y": {"field": "w", "type": "quantitative"}}},
     {"transform": [{"filter": "datum.s=='o'"}], "mark": {"type": "rule", "color": "#222", "strokeWidth": 1, "clip": true}, "encoding": {"x": {"field": "r", "type": "quantitative"}, "y": {"field": "lo", "type": "quantitative"}, "y2": {"field": "hi"}}},
     {"transform": [{"filter": "datum.s=='o'"}], "mark": {"type": "tick", "orient": "horizontal", "size": 4, "thickness": 1, "color": "#222", "clip": true}, "encoding": {"x": {"field": "r", "type": "quantitative"}, "y": {"field": "lo", "type": "quantitative"}}},
     {"transform": [{"filter": "datum.s=='o'"}], "mark": {"type": "tick", "orient": "horizontal", "size": 4, "thickness": 1, "color": "#222", "clip": true}, "encoding": {"x": {"field": "r", "type": "quantitative"}, "y": {"field": "hi", "type": "quantitative"}}},
     {"data": {"values": [{"t": "10⁹˙⁵<Mₛₜₐᵣₛ<10¹⁰˙⁵"}]}, "mark": {"type": "text", "align": "left", "baseline": "middle", "fontSize": 13, "color": "#808080"}, "encoding": {"x": {"datum": 0.022}, "y": {"datum": 0.95}, "text": {"field": "t"}}}
     ]},
     {"transform": [{"filter": "datum.s=='o'"}], "mark": {"type": "line", "opacity": 0},
      "encoding": {
       "x": {"field": "r", "type": "quantitative", "axis": {"orient": "top", "labels": false, "title": null, "values": [0.01,0.02,0.03,0.04,0.05,0.06,0.07,0.08,0.09,0.1,0.2,0.3,0.4,0.5,0.6,0.7,0.8,0.9,1,2,3,4,5,6,7,8,9,10,20,30,40,50,60,70,80,90,100],
         "tickSize": {"condition": {"test": "abs(log(datum.value)/LN10-round(log(datum.value)/LN10))<0.001", "value": -6}, "value": -3}}},
       "y": {"field": "w", "type": "quantitative", "axis": {"orient": "right", "labels": false, "title": null, "values": [0.2,0.3,0.4,0.5,0.6,0.7,0.8,0.9,1,2,3,4,5,6,7,8,9,10,20,30,40,50,60,70,80,90,100,200,300,400,500,600,700,800,900,1000,2000,3000,4000,5000,6000,7000,8000,9000,10000,20000],
         "tickSize": {"condition": {"test": "abs(log(datum.value)/LN10-round(log(datum.value)/LN10))<0.001", "value": -6}, "value": -3}}}
      }}
    ]},
   {"width": 187, "height": 125, "data": {"name": "wp"}, "transform": [{"filter": "datum.p==3"}],
    "resolve": {"axis": {"x": "independent", "y": "independent"}},
    "layer": [
     {"layer": [
     {"transform": [{"filter": "datum.s=='gt'"}], "mark": {"type": "line", "color": "#33ee33", "strokeDash": [1.5, 3], "strokeWidth": 1.2, "clip": true},
      "encoding": {
       "x": {"field": "r", "type": "quantitative", "scale": {"type": "log", "domain": [0.01, 100]},
        "axis": {"title": "rₚ(h⁻¹Mpc)", "titleX": 187, "titlePadding": 6, "labelPadding": 4, "labelOverlap": false, "values": [0.01,0.02,0.03,0.04,0.05,0.06,0.07,0.08,0.09,0.1,0.2,0.3,0.4,0.5,0.6,0.7,0.8,0.9,1,2,3,4,5,6,7,8,9,10,20,30,40,50,60,70,80,90,100],
         "labelExpr": "(abs(log(datum.value)/LN10-round(log(datum.value)/LN10))<0.001 && datum.value<50) ? format(datum.value,'.2f') : ''",
         "tickSize": {"condition": {"test": "abs(log(datum.value)/LN10-round(log(datum.value)/LN10))<0.001", "value": -6}, "value": -3}}},
       "y": {"field": "w", "type": "quantitative", "scale": {"type": "log", "domain": [0.15, 22000]},
        "axis": {"title": "w(rₚ)", "titleY": 0, "titlePadding": 6, "labelOverlap": false, "values": [0.2,0.3,0.4,0.5,0.6,0.7,0.8,0.9,1,2,3,4,5,6,7,8,9,10,20,30,40,50,60,70,80,90,100,200,300,400,500,600,700,800,900,1000,2000,3000,4000,5000,6000,7000,8000,9000,10000,20000],
         "labelExpr": "abs(log(datum.value)/LN10-round(log(datum.value)/LN10))<0.001 ? format(datum.value,'d') : ''",
         "tickSize": {"condition": {"test": "abs(log(datum.value)/LN10-round(log(datum.value)/LN10))<0.001", "value": -6}, "value": -3}}}
      }},
     {"transform": [{"filter": "datum.s=='gd'"}], "mark": {"type": "line", "color": "#33ee33", "strokeDash": [9, 5], "strokeWidth": 1.2, "clip": true}, "encoding": {"x": {"field": "r", "type": "quantitative"}, "y": {"field": "w", "type": "quantitative"}}},
     {"transform": [{"filter": "datum.s=='r'"}], "mark": {"type": "line", "color": "#ff2020", "strokeDash": [5, 4], "strokeWidth": 1.2, "clip": true}, "encoding": {"x": {"field": "r", "type": "quantitative"}, "y": {"field": "w", "type": "quantitative"}}},
     {"transform": [{"filter": "datum.s=='b'"}], "mark": {"type": "line", "color": "#1010ff", "strokeDash": [2.5, 3], "strokeWidth": 2.5, "clip": true}, "encoding": {"x": {"field": "r", "type": "quantitative"}, "y": {"field": "w", "type": "quantitative"}}},
     {"transform": [{"filter": "datum.s=='o'"}], "mark": {"type": "line", "color": "#000", "strokeWidth": 1.2, "clip": true}, "encoding": {"x": {"field": "r", "type": "quantitative"}, "y": {"field": "w", "type": "quantitative"}}},
     {"transform": [{"filter": "datum.s=='o'"}], "mark": {"type": "rule", "color": "#222", "strokeWidth": 1, "clip": true}, "encoding": {"x": {"field": "r", "type": "quantitative"}, "y": {"field": "lo", "type": "quantitative"}, "y2": {"field": "hi"}}},
     {"transform": [{"filter": "datum.s=='o'"}], "mark": {"type": "tick", "orient": "horizontal", "size": 4, "thickness": 1, "color": "#222", "clip": true}, "encoding": {"x": {"field": "r", "type": "quantitative"}, "y": {"field": "lo", "type": "quantitative"}}},
     {"transform": [{"filter": "datum.s=='o'"}], "mark": {"type": "tick", "orient": "horizontal", "size": 4, "thickness": 1, "color": "#222", "clip": true}, "encoding": {"x": {"field": "r", "type": "quantitative"}, "y": {"field": "hi", "type": "quantitative"}}},
     {"data": {"values": [{"t": "10¹⁰<Mₛₜₐᵣₛ<10¹¹"}]}, "mark": {"type": "text", "align": "left", "baseline": "middle", "fontSize": 13, "color": "#808080"}, "encoding": {"x": {"datum": 0.022}, "y": {"datum": 0.8}, "text": {"field": "t"}}}
     ]},
     {"transform": [{"filter": "datum.s=='o'"}], "mark": {"type": "line", "opacity": 0},
      "encoding": {
       "x": {"field": "r", "type": "quantitative", "axis": {"orient": "top", "labels": false, "title": null, "values": [0.01,0.02,0.03,0.04,0.05,0.06,0.07,0.08,0.09,0.1,0.2,0.3,0.4,0.5,0.6,0.7,0.8,0.9,1,2,3,4,5,6,7,8,9,10,20,30,40,50,60,70,80,90,100],
         "tickSize": {"condition": {"test": "abs(log(datum.value)/LN10-round(log(datum.value)/LN10))<0.001", "value": -6}, "value": -3}}},
       "y": {"field": "w", "type": "quantitative", "axis": {"orient": "right", "labels": false, "title": null, "values": [0.2,0.3,0.4,0.5,0.6,0.7,0.8,0.9,1,2,3,4,5,6,7,8,9,10,20,30,40,50,60,70,80,90,100,200,300,400,500,600,700,800,900,1000,2000,3000,4000,5000,6000,7000,8000,9000,10000,20000],
         "tickSize": {"condition": {"test": "abs(log(datum.value)/LN10-round(log(datum.value)/LN10))<0.001", "value": -6}, "value": -3}}}
      }}
    ]},
   {"width": 187, "height": 125, "data": {"name": "wp"}, "transform": [{"filter": "datum.p==4"}],
    "resolve": {"axis": {"x": "independent", "y": "independent"}},
    "layer": [
     {"layer": [
     {"transform": [{"filter": "datum.s=='gt'"}], "mark": {"type": "line", "color": "#33ee33", "strokeDash": [1.5, 3], "strokeWidth": 1.2, "clip": true},
      "encoding": {
       "x": {"field": "r", "type": "quantitative", "scale": {"type": "log", "domain": [0.01, 100]},
        "axis": {"title": null, "labelPadding": 4, "labelOverlap": false, "values": [0.01,0.02,0.03,0.04,0.05,0.06,0.07,0.08,0.09,0.1,0.2,0.3,0.4,0.5,0.6,0.7,0.8,0.9,1,2,3,4,5,6,7,8,9,10,20,30,40,50,60,70,80,90,100],
         "labelExpr": "(abs(log(datum.value)/LN10-round(log(datum.value)/LN10))<0.001 && datum.value<50) ? format(datum.value,'.2f') : ''",
         "tickSize": {"condition": {"test": "abs(log(datum.value)/LN10-round(log(datum.value)/LN10))<0.001", "value": -6}, "value": -3}}},
       "y": {"field": "w", "type": "quantitative", "scale": {"type": "log", "domain": [0.15, 22000]},
        "axis": {"title": null, "labels": false, "values": [0.2,0.3,0.4,0.5,0.6,0.7,0.8,0.9,1,2,3,4,5,6,7,8,9,10,20,30,40,50,60,70,80,90,100,200,300,400,500,600,700,800,900,1000,2000,3000,4000,5000,6000,7000,8000,9000,10000,20000],
         "tickSize": {"condition": {"test": "abs(log(datum.value)/LN10-round(log(datum.value)/LN10))<0.001", "value": -6}, "value": -3}}}
      }},
     {"transform": [{"filter": "datum.s=='gd'"}], "mark": {"type": "line", "color": "#33ee33", "strokeDash": [9, 5], "strokeWidth": 1.2, "clip": true}, "encoding": {"x": {"field": "r", "type": "quantitative"}, "y": {"field": "w", "type": "quantitative"}}},
     {"transform": [{"filter": "datum.s=='r'"}], "mark": {"type": "line", "color": "#ff2020", "strokeDash": [5, 4], "strokeWidth": 1.2, "clip": true}, "encoding": {"x": {"field": "r", "type": "quantitative"}, "y": {"field": "w", "type": "quantitative"}}},
     {"transform": [{"filter": "datum.s=='b'"}], "mark": {"type": "line", "color": "#1010ff", "strokeDash": [2.5, 3], "strokeWidth": 2.5, "clip": true}, "encoding": {"x": {"field": "r", "type": "quantitative"}, "y": {"field": "w", "type": "quantitative"}}},
     {"transform": [{"filter": "datum.s=='o'"}], "mark": {"type": "line", "color": "#000", "strokeWidth": 1.2, "clip": true}, "encoding": {"x": {"field": "r", "type": "quantitative"}, "y": {"field": "w", "type": "quantitative"}}},
     {"transform": [{"filter": "datum.s=='o'"}], "mark": {"type": "rule", "color": "#222", "strokeWidth": 1, "clip": true}, "encoding": {"x": {"field": "r", "type": "quantitative"}, "y": {"field": "lo", "type": "quantitative"}, "y2": {"field": "hi"}}},
     {"transform": [{"filter": "datum.s=='o'"}], "mark": {"type": "tick", "orient": "horizontal", "size": 4, "thickness": 1, "color": "#222", "clip": true}, "encoding": {"x": {"field": "r", "type": "quantitative"}, "y": {"field": "lo", "type": "quantitative"}}},
     {"transform": [{"filter": "datum.s=='o'"}], "mark": {"type": "tick", "orient": "horizontal", "size": 4, "thickness": 1, "color": "#222", "clip": true}, "encoding": {"x": {"field": "r", "type": "quantitative"}, "y": {"field": "hi", "type": "quantitative"}}},
     {"data": {"values": [{"t": "10¹⁰˙⁵<Mₛₜₐᵣₛ<10¹¹˙⁵"}]}, "mark": {"type": "text", "align": "left", "baseline": "middle", "fontSize": 13, "color": "#808080"}, "encoding": {"x": {"datum": 0.022}, "y": {"datum": 0.8}, "text": {"field": "t"}}}
     ]},
     {"transform": [{"filter": "datum.s=='o'"}], "mark": {"type": "line", "opacity": 0},
      "encoding": {
       "x": {"field": "r", "type": "quantitative", "axis": {"orient": "top", "labels": false, "title": null, "values": [0.01,0.02,0.03,0.04,0.05,0.06,0.07,0.08,0.09,0.1,0.2,0.3,0.4,0.5,0.6,0.7,0.8,0.9,1,2,3,4,5,6,7,8,9,10,20,30,40,50,60,70,80,90,100],
         "tickSize": {"condition": {"test": "abs(log(datum.value)/LN10-round(log(datum.value)/LN10))<0.001", "value": -6}, "value": -3}}},
       "y": {"field": "w", "type": "quantitative", "axis": {"orient": "right", "labels": false, "title": null, "values": [0.2,0.3,0.4,0.5,0.6,0.7,0.8,0.9,1,2,3,4,5,6,7,8,9,10,20,30,40,50,60,70,80,90,100,200,300,400,500,600,700,800,900,1000,2000,3000,4000,5000,6000,7000,8000,9000,10000,20000],
         "tickSize": {"condition": {"test": "abs(log(datum.value)/LN10-round(log(datum.value)/LN10))<0.001", "value": -6}, "value": -3}}}
      }}
    ]}
 ]
}
]
}
